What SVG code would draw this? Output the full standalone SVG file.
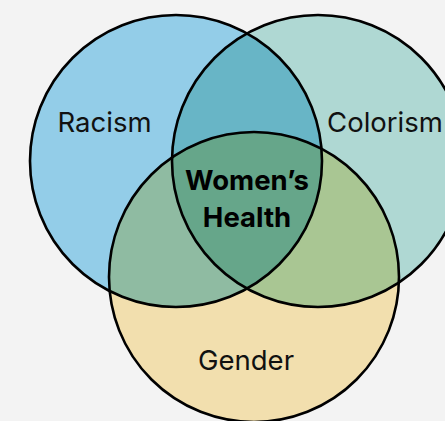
<svg xmlns="http://www.w3.org/2000/svg" width="445" height="421" viewBox="0 0 445 421">
  <style>
    .outline { fill: none; stroke: #000; stroke-width: 2.6; }
    .label { font-family: Inter, "Liberation Sans", sans-serif; font-size: 27.5px; fill: #111; text-anchor: middle; }
    .center { font-family: Inter, "Liberation Sans", sans-serif; font-size: 27.5px; font-weight: bold; fill: #000; text-anchor: middle; }
  </style>
  <defs>
    <clipPath id="clipR"><circle cx="176" cy="161" r="146"/></clipPath>
    <clipPath id="clipC"><circle cx="318" cy="161" r="146"/></clipPath>
    <clipPath id="clipG"><circle cx="254" cy="277" r="145"/></clipPath>
  </defs>
  <rect width="445" height="421" fill="#f3f3f3"/>
  <g id="racism">
    <circle cx="176" cy="161" r="146" fill="#93cde8"/>
  </g>
  <g id="colorism">
    <circle cx="318" cy="161" r="146" fill="#afd8d3"/>
  </g>
  <g id="gender">
    <circle cx="254" cy="277" r="145" fill="#f2dfae"/>
  </g>
  <g id="overlaps">
    <circle cx="318" cy="161" r="146" fill="#68b5c6" clip-path="url(#clipR)"/>
    <circle cx="254" cy="277" r="145" fill="#8fbba2" clip-path="url(#clipR)"/>
    <circle cx="254" cy="277" r="145" fill="#a9c693" clip-path="url(#clipC)"/>
    <g clip-path="url(#clipC)">
      <circle cx="254" cy="277" r="145" fill="#66a68a" clip-path="url(#clipR)"/>
    </g>
  </g>
  <g id="outlines">
    <circle class="outline" cx="176" cy="161" r="146"/>
    <circle class="outline" cx="318" cy="161" r="146"/>
    <circle class="outline" cx="254" cy="277" r="145"/>
  </g>
  <g id="labels">
    <text class="label" x="104.5" y="132">Racism</text>
    <text class="label" x="385" y="132">Colorism</text>
    <text class="label" x="246" y="370">Gender</text>
    <g id="womens-health">
      <text class="center" x="247" y="190">Women’s</text>
      <text class="center" x="247" y="227">Health</text>
    </g>
  </g>
</svg>
